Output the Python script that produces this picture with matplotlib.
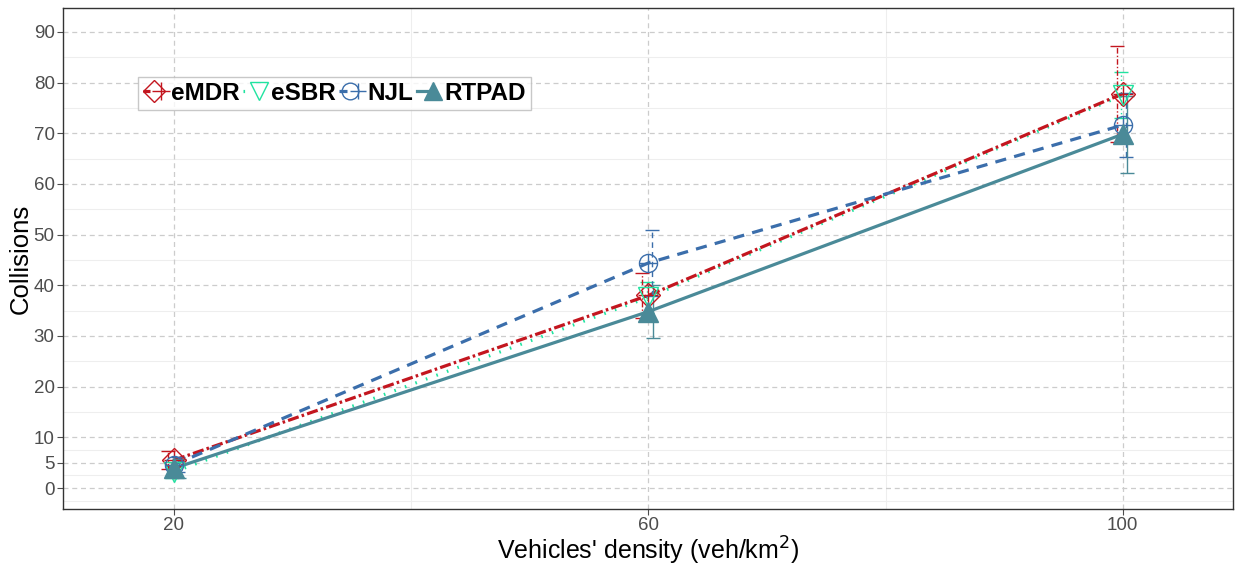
import matplotlib
matplotlib.use("Agg")
import matplotlib.pyplot as plt
from matplotlib.lines import Line2D
from matplotlib.legend_handler import HandlerTuple
import numpy as np

plt.rcParams['font.family'] = ['Liberation Sans', 'DejaVu Sans']

density = [20, 60, 100]
x_ticks = [20, 60, 100]
y_ticks = [0, 5, 10, 20, 30, 40, 50, 60, 70, 80, 90]

series_names = ["eMDR", "eSBR", "NJL", "RTPAD"]
emdr_mean = [5.5, 38.0, 77.8]
emdr_err = [1.8, 4.4, 9.5]
esbr_mean = [3.2, 37.6, 77.5]
esbr_err = [1.2, 3.0, 4.5]
njl_mean = [4.6, 44.4, 71.6]
njl_err = [1.5, 6.5, 6.3]
rtpad_mean = [3.9, 34.8, 69.8]
rtpad_err = [1.9, 5.3, 7.6]

colors = {"eMDR": "#C3161F", "eSBR": "#20E3A0", "NJL": "#3B6EAB", "RTPAD": "#4A8A98"}

fig = plt.figure(figsize=(12.36, 5.65), dpi=100)
ax = fig.add_axes([63/1236, 1-509/565, 1170/1236, 501/565])

ax.set_xlim(10.64, 109.3)
ax.set_ylim(-4.14, 94.7)

# grid
for v in [-2.5, 2.5, 7.5, 15, 25, 35, 45, 55, 65, 75, 85]:
    ax.axhline(v, color="#EEEEEE", lw=0.8, zorder=0)
for v in [40, 80]:
    ax.axvline(v, color="#EEEEEE", lw=0.8, zorder=0)
for v in y_ticks:
    ax.axhline(v, color="#CCCCCC", lw=0.9, ls=(0, (4, 3)), zorder=0.5)
for v in x_ticks:
    ax.axvline(v, color="#CCCCCC", lw=0.9, ls=(0, (4, 3)), zorder=0.5)

dx = np.array(density, dtype=float)
LW = 2.3

line_ls = {"eSBR": (0, (0.5, 3.0)), "eMDR": (0, (3.5, 1.0, 0.8, 1.0)),
           "NJL": (0, (3.5, 2.6)), "RTPAD": "-"}
ebls = {"eSBR": (0, (1, 2)), "eMDR": (0, (4, 1.5, 1, 1.5)), "NJL": (0, (4, 3)), "RTPAD": "-"}

specs = [
    ("eSBR", esbr_mean, esbr_err, -0.15, 3),
    ("eMDR", emdr_mean, emdr_err, -0.5, 4),
    ("NJL", njl_mean, njl_err, 0.3, 5),
    ("RTPAD", rtpad_mean, rtpad_err, 0.4, 6),
]

for name, m, e, off, z in specs:
    c = colors[name]
    ax.plot(dx, m, color=c, lw=LW, ls=line_ls[name], zorder=z, solid_capstyle="butt")
    el = ax.errorbar(dx + off, m, yerr=e, fmt="none", ecolor=c, elinewidth=1.0,
                     capsize=5, capthick=1.0, zorder=z)
    for lc in el[2]:
        lc.set_linestyle(ebls[name])

# markers
ax.plot(dx, emdr_mean, ls="none", marker="D", ms=12, mfc="none", mec=colors["eMDR"], mew=1.0, zorder=7)
ax.plot(dx, emdr_mean, ls="none", marker="+", ms=14, mec=colors["eMDR"], mew=1.0, zorder=7)
ax.plot(dx, esbr_mean, ls="none", marker="v", ms=14, mfc="none", mec=colors["eSBR"], mew=1.0, zorder=7)
ax.plot(dx, njl_mean, ls="none", marker="o", ms=13, mfc="none", mec=colors["NJL"], mew=1.0, zorder=7)
ax.plot(dx, njl_mean, ls="none", marker="+", ms=13, mec=colors["NJL"], mew=1.0, zorder=7)
ax.plot(dx, rtpad_mean, ls="none", marker="^", ms=14, mfc=colors["RTPAD"], mec=colors["RTPAD"], mew=1.0, zorder=8)

ax.set_xticks(x_ticks)
ax.set_yticks(y_ticks)
ax.tick_params(axis="both", colors="#4D4D4D", labelsize=13.5, length=4, width=0.8, pad=2)
for lab in ax.get_xticklabels() + ax.get_yticklabels():
    lab.set_color("#4D4D4D")
for s in ax.spines.values():
    s.set_color("#333333")
    s.set_linewidth(1.0)

ax.set_xlabel("Vehicles' density (veh/km$^2$)", fontsize=18, color="black", labelpad=0)
ax.set_ylabel("Collisions", fontsize=18.5, color="black", labelpad=1)

h_emdr = (Line2D([], [], color=colors["eMDR"], lw=LW, ls=line_ls["eMDR"]),
          Line2D([], [], ls="none", marker="D", ms=11, mfc="none", mec=colors["eMDR"], mew=1.0),
          Line2D([], [], ls="none", marker="+", ms=13, mec=colors["eMDR"], mew=1.0))
h_esbr = (Line2D([], [], color=colors["eSBR"], lw=LW, ls=line_ls["eSBR"]),
          Line2D([], [], ls="none", marker="v", ms=13, mfc="none", mec=colors["eSBR"], mew=1.0))
h_njl = (Line2D([], [], color=colors["NJL"], lw=LW, ls=line_ls["NJL"]),
         Line2D([], [], ls="none", marker="o", ms=12, mfc="none", mec=colors["NJL"], mew=1.0),
         Line2D([], [], ls="none", marker="+", ms=12, mec=colors["NJL"], mew=1.0))
h_rtpad = (Line2D([], [], color=colors["RTPAD"], lw=LW),
           Line2D([], [], ls="none", marker="^", ms=13, mfc=colors["RTPAD"], mec=colors["RTPAD"], mew=1.0))

leg = ax.legend([h_emdr, h_esbr, h_njl, h_rtpad], series_names,
                handler_map={tuple: HandlerTuple(ndivide=None, pad=0)},
                loc="upper left", bbox_to_anchor=(0.064, 0.862), ncol=4,
                prop={"weight": "bold", "size": 17.5}, frameon=True, fancybox=False,
                edgecolor="#BBBBBB", handlelength=0.9, handletextpad=0.25,
                columnspacing=0.15, borderpad=0.2, borderaxespad=0)
leg.get_frame().set_linewidth(1.0)
leg.set_zorder(10)

fig.savefig("out.png", dpi=100)
